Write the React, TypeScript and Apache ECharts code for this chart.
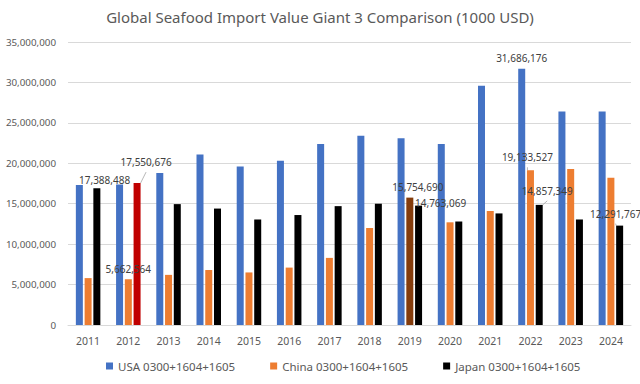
import React, { useEffect, useRef } from "react";
import * as echarts from "echarts";

const years = ["2011", "2012", "2013", "2014", "2015", "2016", "2017", "2018", "2019", "2020", "2021", "2022", "2023", "2024"];
const seriesNames = ["USA 0300+1604+1605", "China 0300+1604+1605", "Japan 0300+1604+1605"];
const usa = [17300000, 17388488, 18800000, 21100000, 19600000, 20300000, 22400000, 23400000, 23100000, 22400000, 29600000, 31686176, 26400000, 26400000];
const china = [5800000, 5662564, 6200000, 6800000, 6500000, 7100000, 8300000, 12000000, 15754690, 12700000, 14100000, 19133527, 19300000, 18200000];
const japan = [16900000, 17550676, 14950000, 14400000, 13050000, 13600000, 14700000, 15000000, 14763069, 12800000, 13800000, 14857349, 13050000, 12291767];
const yTicks = [0, 5000000, 10000000, 15000000, 20000000, 25000000, 30000000, 35000000];

// which points carry a value label (year indices)
const labeledUsa = [1, 11];
const labeledChina = [1, 8, 11];
const labeledJapan = [1, 8, 11, 13];
// highlighted bars
const highlightChina = [8];
const highlightJapan = [1];

const seriesColors = ["#4472C4", "#ED7D31", "#000000"];
const highlightColors: Record<string, string> = { china: "#843C0C", japan: "#C00000" };

// label placement tweaks (style, keyed by series/year index): dx, dy, leader line
const labelShift: Record<string, [number, number, boolean]> = {
  "0-1": [-15, 4, false],
  "0-11": [0, -3, false],
  "1-1": [0, -2, false],
  "1-8": [8, -3, false],
  "1-11": [-3, -5, true],
  "2-1": [9, -13, true],
  "2-8": [22, 5, false],
  "2-11": [8, -6, true],
  "2-13": [-4, -4, true],
};

const fmt = (v: number) => v.toLocaleString("en-US");

function buildData(values: number[], si: number, labeled: number[], highlight: number[], hiColor?: string) {
  return values.map((v, i) => {
    const item: any = { value: v };
    if (highlight.includes(i) && hiColor) item.itemStyle = { color: hiColor };
    if (labeled.includes(i)) {
      const s = labelShift[`${si}-${i}`] || [0, 0, false];
      item.label = { show: true, offset: [s[0], s[1]] };
      if (s[2]) item.labelLine = { show: true, lineStyle: { color: "#A6A6A6", width: 0.8 } };
    }
    return item;
  });
}

export default function App() {
  const ref = useRef<HTMLDivElement>(null);
  useEffect(() => {
    if (!ref.current) return;
    const chart = echarts.init(ref.current, undefined, { renderer: "svg" });
    const font = "'Noto Sans', 'Open Sans', sans-serif";
    const labelBase = {
      show: false,
      position: "top",
      distance: 3,
      color: "#404040",
      fontSize: 10,
      fontFamily: font,
      formatter: (p: any) => fmt(p.value),
    };
    const mk = (name: string, data: any[], color: string) => ({
      name,
      type: "bar",
      data,
      barWidth: 7,
      barGap: "25%",
      itemStyle: { color },
      label: labelBase,
      labelLine: { show: false },
    });
    chart.setOption({
      animation: false,
      backgroundColor: "#ffffff",
      title: {
        text: "Global Seafood Import Value Giant 3 Comparison (1000 USD)",
        left: "center",
        top: 4,
        textStyle: { color: "#595959", fontSize: 15, fontWeight: "normal", fontFamily: font },
      },
      legend: {
        top: 360,
        left: 106,
        padding: 0,
        itemWidth: 7,
        itemHeight: 7,
        itemGap: 35,
        icon: "rect",
        textStyle: { color: "#595959", fontSize: 11.5, fontFamily: font },
        data: seriesNames,
      },
      grid: { left: 68, right: 9, top: 42, bottom: 59, containLabel: false },
      xAxis: {
        type: "category",
        data: years,
        axisLine: { lineStyle: { color: "#D9D9D9" } },
        axisTick: { show: false },
        axisLabel: { color: "#595959", fontSize: 10.5, fontFamily: font, margin: 10 },
      },
      yAxis: {
        type: "value",
        min: yTicks[0],
        max: yTicks[yTicks.length - 1],
        interval: 5000000,
        axisLine: { show: false },
        axisTick: { show: false },
        splitLine: { lineStyle: { color: "#D9D9D9" } },
        axisLabel: { color: "#595959", fontSize: 9.8, fontFamily: font, margin: 12, formatter: (v: number) => fmt(v) },
      },
      series: [
        mk(seriesNames[0], buildData(usa, 0, labeledUsa, []), seriesColors[0]),
        mk(seriesNames[1], buildData(china, 1, labeledChina, highlightChina, highlightColors.china), seriesColors[1]),
        mk(seriesNames[2], buildData(japan, 2, labeledJapan, highlightJapan, highlightColors.japan), seriesColors[2]),
      ],
    });
    return () => chart.dispose();
  }, []);
  return <div ref={ref} style={{ position: "absolute", left: 0, top: 0, width: 640, height: 384 }} />;
}
